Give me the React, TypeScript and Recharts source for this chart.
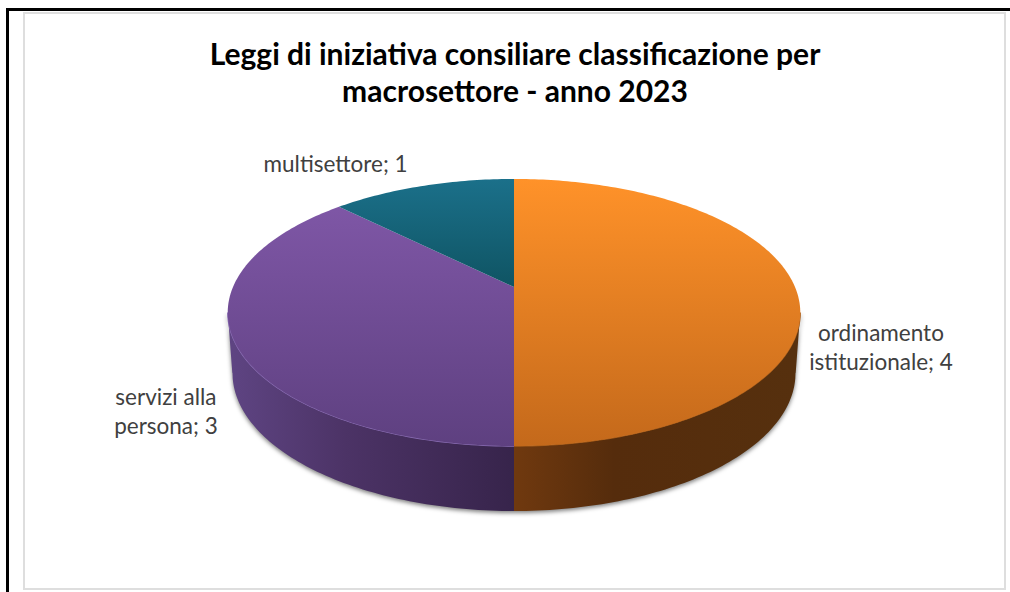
import { PieChart, Pie } from "recharts";

const categories = ["ordinamento istituzionale", "servizi alla persona", "multisettore"];
const values = [4, 3, 1];
const titleLines = [
  "Leggi di iniziativa consiliare classificazione per",
  "macrosettore - anno 2023",
];

const chartData = categories.map((name, i) => ({ name, value: values[i] }));

// perspective of the tilted disc, unit circle -> screen
const K = 0.191;
const TILT = 0.458;
const CX = 514;
const CY = 287;
const R = 281;
// lower rim of the disc, relative to the apex
const BOTTOM_DY = 86;
const BOTTOM_RX = 281.5;
const BOTTOM_RY = 138;
const RIM_SCALE = 0.984;

const topFill: Record<string, string> = {
  "ordinamento istituzionale": "url(#topOrange)",
  "servizi alla persona": "url(#topPurple)",
  multisettore: "url(#topTeal)",
};
const sideFill: Record<string, string> = {
  "ordinamento istituzionale": "url(#sideOrange)",
  "servizi alla persona": "url(#sidePurple)",
};
const rimColor: Record<string, string> = {
  "ordinamento istituzionale": "#A85C18",
  "servizi alla persona": "#8A6DB5",
};
// label centre relative to the rim point at the slice's mid angle
const labelOffset: Record<string, [number, number]> = {
  "ordinamento istituzionale": [86, 54],
  "servizi alla persona": [-68, 65],
  multisettore: [-87, -14],
};

function rim(cx: number, cy: number, r: number, deg: number) {
  const a = (deg * Math.PI) / 180;
  const u = Math.cos(a);
  const v = Math.sin(a);
  const d = 1 + K * v;
  return { x: cx + (r * u) / d, y: cy - (r * TILT * v) / d };
}

function lowerRim(cx: number, cy: number, r: number, deg: number) {
  const p = rim(cx, cy, r, deg);
  const dx = (p.x - cx) * RIM_SCALE;
  const t = Math.min(1, Math.abs(dx) / BOTTOM_RX);
  return { x: cx + dx, y: cy + BOTTOM_DY + BOTTOM_RY * Math.sqrt(1 - t * t) };
}

function sweep(from: number, to: number) {
  const n = Math.max(2, Math.ceil(Math.abs(to - from)));
  return Array.from({ length: n + 1 }, (_, i) => from + ((to - from) * i) / n);
}

const pts = (list: { x: number; y: number }[]) =>
  list.map((p) => `${p.x.toFixed(2)} ${p.y.toFixed(2)}`).join(" L ");

function TopFace(props: any) {
  const { cx, cy, outerRadius, startAngle, endAngle, name } = props;
  const arc = sweep(startAngle, endAngle).map((a) => rim(cx, cy, outerRadius, a));
  const d = `M ${cx} ${cy} L ${pts(arc)} Z`;
  return <path d={d} fill={topFill[name]} />;
}

function SideFace(props: any) {
  const { cx, cy, outerRadius, startAngle, endAngle, name } = props;
  // only the front of the disc shows a wall
  const limit = (Math.asin(K) * 180) / Math.PI;
  const from = Math.min(startAngle, -limit);
  const to = Math.max(endAngle, -180 + limit);
  if (from <= to) return <g />;
  const angles = sweep(from, to);
  const top = angles.map((a) => rim(cx, cy, outerRadius, a));
  const low = angles.map((a) => lowerRim(cx, cy, outerRadius, a)).reverse();
  return (
    <g>
      <path d={`M ${pts(top)} L ${pts(low)} Z`} fill={sideFill[name]} />
      <path d={`M ${pts(top)}`} fill="none" stroke={rimColor[name]} strokeWidth={1.2} />
    </g>
  );
}

function SliceLabel(props: any) {
  const { cx, cy, outerRadius, midAngle, name, value } = props;
  const p = rim(cx, cy, outerRadius, midAngle);
  const [dx, dy] = labelOffset[name];
  const cut = name.lastIndexOf(" ");
  const lines =
    cut > 0 ? [name.slice(0, cut), `${name.slice(cut + 1)}; ${value}`] : [`${name}; ${value}`];
  const x = p.x + dx;
  const y = p.y + dy;
  return (
    <text textAnchor="middle" fontFamily="Lato" fontSize={22.5} fill="#404040">
      {lines.map((line, i) => (
        <tspan key={line} x={x} y={y + i * 29}>
          {line}
        </tspan>
      ))}
    </text>
  );
}

export default function App() {
  return (
    <div style={{ position: "absolute", left: 0, top: 0, width: 1010, height: 592, background: "#fff", overflow: "hidden" }}>
      <style>{`.pie-sides { filter: drop-shadow(0 2px 2px rgba(0,0,0,0.5)); }`}</style>
      <div style={{ position: "absolute", left: 6, top: 8, width: 1004, height: 584, borderLeft: "3px solid #000", borderTop: "3px solid #000", boxSizing: "border-box" }} />
      <div style={{ position: "absolute", left: 23, top: 12, width: 983, height: 578, border: "2px solid #DEDEDE", boxSizing: "border-box" }} />
      <div style={{ position: "absolute", left: 0, top: 0 }}>
        <PieChart width={1010} height={592} margin={{ top: 0, right: 0, bottom: 0, left: 0 }}>
          <defs>
            <linearGradient id="topOrange" gradientUnits="userSpaceOnUse" x1="0" y1="179" x2="0" y2="446">
              <stop offset="0" stopColor="#FF9229" />
              <stop offset="1" stopColor="#C4691B" />
            </linearGradient>
            <linearGradient id="topPurple" gradientUnits="userSpaceOnUse" x1="0" y1="179" x2="0" y2="446">
              <stop offset="0" stopColor="#8259AA" />
              <stop offset="1" stopColor="#5E4080" />
            </linearGradient>
            <linearGradient id="topTeal" gradientUnits="userSpaceOnUse" x1="0" y1="179" x2="0" y2="287">
              <stop offset="0" stopColor="#1B708A" />
              <stop offset="1" stopColor="#0F5463" />
            </linearGradient>
            <linearGradient id="sideOrange" gradientUnits="userSpaceOnUse" x1="514" y1="0" x2="800" y2="0">
              <stop offset="0" stopColor="#70390F" />
              <stop offset="0.35" stopColor="#552C0C" />
              <stop offset="1" stopColor="#56300E" />
            </linearGradient>
            <linearGradient id="sidePurple" gradientUnits="userSpaceOnUse" x1="232" y1="0" x2="514" y2="0">
              <stop offset="0" stopColor="#5E4482" />
              <stop offset="0.4" stopColor="#4C3366" />
              <stop offset="1" stopColor="#37244B" />
            </linearGradient>
          </defs>
          <text textAnchor="middle" fontFamily="Lato" fontWeight={700} fontSize={30} fill="#000">
            {titleLines.map((line, i) => (
              <tspan key={line} x={515} y={65 + i * 37}>
                {line}
              </tspan>
            ))}
          </text>
          <Pie
            className="pie-sides"
            data={chartData}
            dataKey="value"
            nameKey="name"
            cx={CX}
            cy={CY}
            outerRadius={R}
            startAngle={90}
            endAngle={-270}
            stroke="none"
            shape={SideFace}
            isAnimationActive={false}
          />
          <Pie
            data={chartData}
            dataKey="value"
            nameKey="name"
            cx={CX}
            cy={CY}
            outerRadius={R}
            startAngle={90}
            endAngle={-270}
            stroke="none"
            shape={TopFace}
            label={SliceLabel}
            labelLine={false}
            isAnimationActive={false}
          />
        </PieChart>
      </div>
    </div>
  );
}
